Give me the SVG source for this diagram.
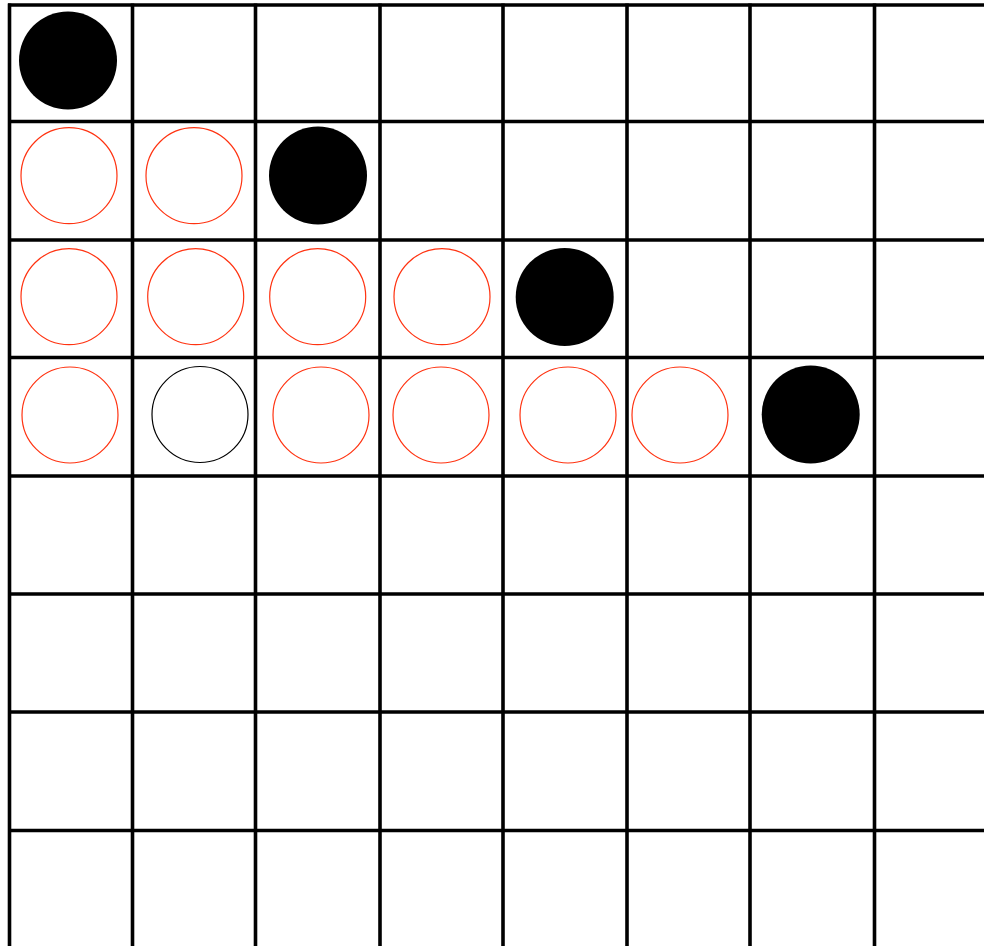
<svg xmlns="http://www.w3.org/2000/svg" width="984" height="946" viewBox="0 0 984 946">
<style>
.grid line{stroke:#000;stroke-width:3.6}
.black{fill:#000}
.red{fill:none;stroke:#ff3311;stroke-width:1.2}
.ring{fill:none;stroke:#000;stroke-width:1.2}
</style>
<rect width="984" height="946" fill="#fff"/>
<g id="grid" class="grid">
<line x1="8" y1="5" x2="984" y2="5"/>
<line x1="8" y1="121.5" x2="984" y2="121.5"/>
<line x1="8" y1="240" x2="984" y2="240"/>
<line x1="8" y1="357.5" x2="984" y2="357.5"/>
<line x1="8" y1="476" x2="984" y2="476"/>
<line x1="8" y1="594" x2="984" y2="594"/>
<line x1="8" y1="712" x2="984" y2="712"/>
<line x1="8" y1="830.5" x2="984" y2="830.5"/>
<line x1="9.5" y1="3.5" x2="9.5" y2="946"/>
<line x1="132.5" y1="3.5" x2="132.5" y2="946"/>
<line x1="255.5" y1="3.5" x2="255.5" y2="946"/>
<line x1="380" y1="3.5" x2="380" y2="946"/>
<line x1="503" y1="3.5" x2="503" y2="946"/>
<line x1="627" y1="3.5" x2="627" y2="946"/>
<line x1="750" y1="3.5" x2="750" y2="946"/>
<line x1="874.5" y1="3.5" x2="874.5" y2="946"/>
</g>
<g id="stones-black">
<circle class="black" cx="68" cy="60.5" r="49"/>
<circle class="black" cx="318" cy="175.5" r="49"/>
<circle class="black" cx="564.7" cy="297" r="49"/>
<circle class="black" cx="810.7" cy="414.5" r="49"/>
</g>
<g id="stones-red">
<circle class="red" cx="69" cy="175.7" r="48"/>
<circle class="red" cx="194" cy="175.7" r="48"/>
<circle class="red" cx="69" cy="296.7" r="48"/>
<circle class="red" cx="195.7" cy="296.7" r="48"/>
<circle class="red" cx="317.7" cy="296.7" r="48"/>
<circle class="red" cx="442" cy="296.7" r="48"/>
<circle class="red" cx="70" cy="415" r="48"/>
<circle class="red" cx="321" cy="415" r="48"/>
<circle class="red" cx="441" cy="415" r="48"/>
<circle class="red" cx="568" cy="415" r="48"/>
<circle class="red" cx="680" cy="415" r="48"/>
</g>
<g id="stone-outline">
<circle class="ring" cx="200" cy="414.5" r="48"/>
</g>
</svg>
